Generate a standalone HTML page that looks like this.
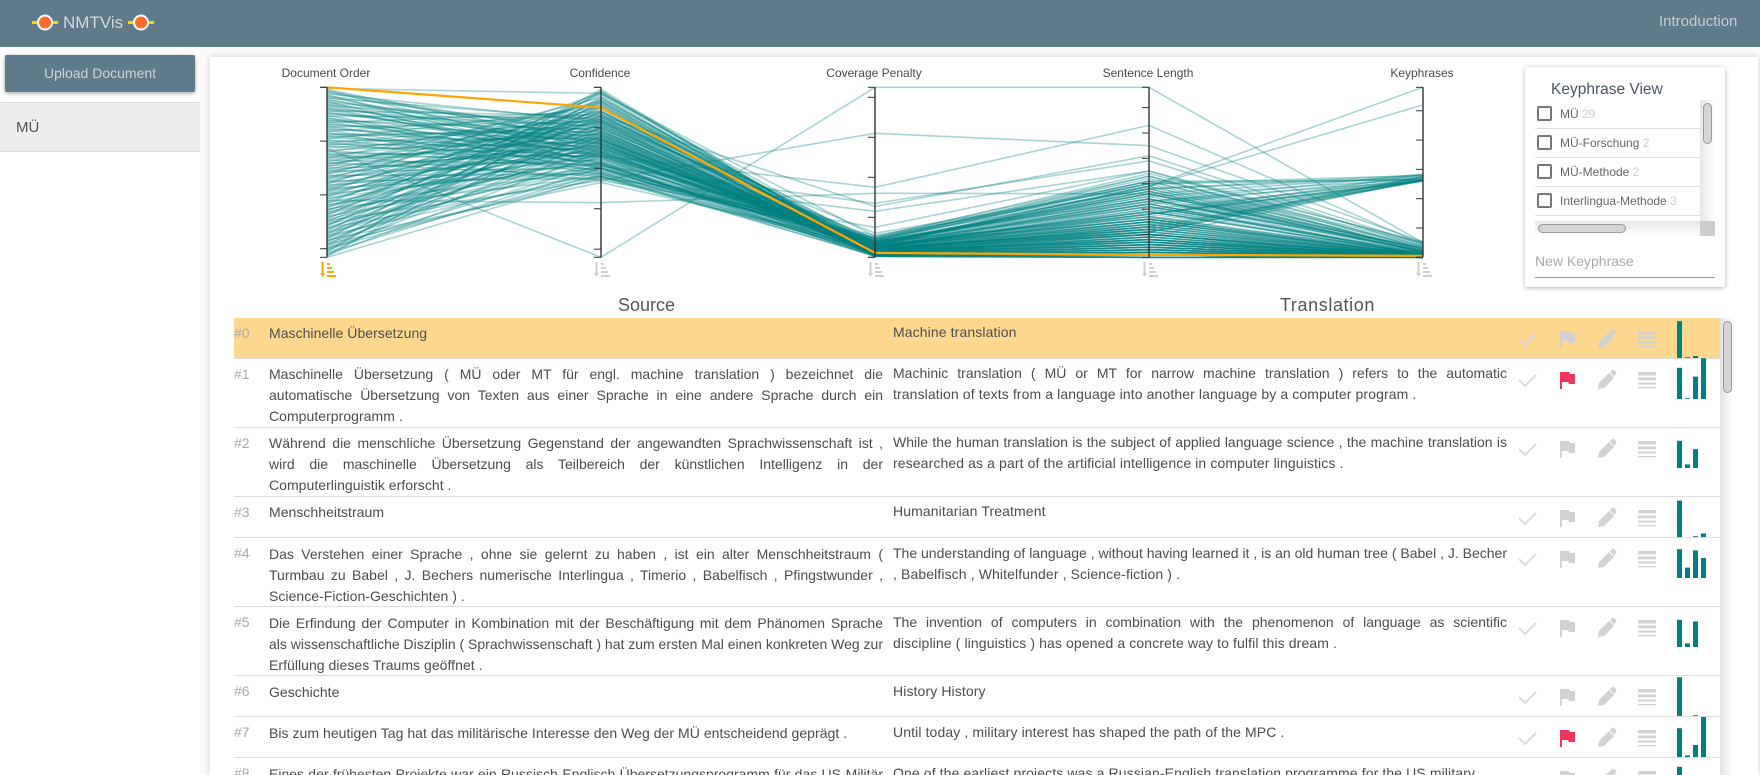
<!DOCTYPE html>
<html lang="en">
<head>
<meta charset="utf-8">
<title>NMTVis</title>
<style>
html,body{margin:0;padding:0;width:1760px;height:775px;overflow:hidden;background:#fafafa;font-family:"Liberation Sans",sans-serif;color:#4a4a4a}
div,span{box-sizing:border-box}
.abs{position:absolute}
#header{left:0;top:0;width:1760px;height:47px;background:#5f7b8a}
#sidebar{left:0;top:47px;width:200px;height:728px;background:#fff}
#card{left:210px;top:57px;width:1548px;height:718px;background:#fff;box-shadow:0 0 6px rgba(0,0,0,.18)}
#upload{left:5px;top:55px;width:190px;height:37px;background:#5f7b8a;color:#c9d4da;font-size:14px;line-height:37px;text-align:center;border-radius:2px;box-shadow:0 1px 4px rgba(0,0,0,.4)}
#docitem{left:0;top:102px;width:200px;height:50px;background:#eee;border-top:1px solid #ddd;border-bottom:1px solid #ddd;font-size:15px;line-height:50px;padding-left:16px;color:#555}
#panel{left:1525px;top:67px;width:200px;height:220px;background:#fff;box-shadow:0 1px 5px rgba(0,0,0,.3);border-radius:2px}
.kp{position:absolute;left:1535px;width:165px;height:29px;border-bottom:1px solid #ddd;font-size:12px;line-height:29px;padding-left:25px;color:#666;white-space:nowrap;overflow:hidden}
.kp b{font-weight:normal;color:#ccc}
.cb{position:absolute;left:2px;top:6px;width:15px;height:15px;border:2px solid #777;border-radius:2px;background:#fff}
.row{position:absolute;left:234px;width:1486px;border-bottom:1px solid #ddd;background:#fff}
.num{position:absolute;left:0;top:5px;font-size:14px;line-height:21px;color:#aaa}
.src,.trn{position:absolute;width:614px;font-size:14px;line-height:21px;color:#4d4d4d}
.src{left:35px;top:5px}
.trn{left:659px;top:4px}
.low .src{top:6px}
.low .trn{top:5px}
.j{display:block;height:21px;text-align:justify;text-align-last:justify;overflow:hidden}
.e{display:block;height:21px;white-space:nowrap;text-align:left;letter-spacing:.04px}
.trn .e{letter-spacing:.11px}
.tight{word-spacing:-1.6px}
.last{border-bottom:0}
.last .num{height:12px;overflow:hidden}
.last .src{height:11px;overflow:hidden}
.last .trn{height:12px;overflow:hidden}
.last .src span{height:11px}
.last .trn span{height:12px}
.icons{position:absolute;left:0;top:0;overflow:visible}
</style>
</head>
<body>
<div class="abs" id="header"></div>
<svg class="abs" style="left:0;top:0" width="170" height="47">
  <rect x="32" y="21" width="26" height="3" fill="#ffd600"/><circle cx="45" cy="22.5" r="7" fill="#ff6b2c" stroke="#fff" stroke-width="2"/>
  <rect x="128" y="21" width="26" height="3" fill="#ffd600"/><circle cx="141" cy="22.5" r="7" fill="#ff6b2c" stroke="#fff" stroke-width="2"/>
</svg>
<div class="abs" style="left:63px;top:12px;font-size:17px;line-height:21px;color:#cfdae0">NMTVis</div>
<div class="abs" style="left:1659px;top:13px;font-size:15px;line-height:18px;color:#c3cfd5">Introduction</div>

<div class="abs" id="sidebar"></div>
<div class="abs" id="card"></div>
<div class="abs" id="upload">Upload Document</div>
<div class="abs" id="docitem">MÜ</div>

<svg class="abs" id="parcoords" style="left:0;top:55px" width="1520" height="235" viewBox="0 55 1520 235"></svg>

<div class="abs" id="panel"></div>
<div class="abs" style="left:1551px;top:81px;font-size:15.5px;line-height:18px;color:#4a5560">Keyphrase View</div>
<div class="kp" style="top:100px"><span class="cb"></span>MÜ <b>29</b></div>
<div class="kp" style="top:129px"><span class="cb"></span>MÜ-Forschung <b>2</b></div>
<div class="kp" style="top:158px"><span class="cb"></span>MÜ-Methode <b>2</b></div>
<div class="kp" style="top:187px"><span class="cb"></span>Interlingua-Methode <b>3</b></div>
<div class="abs" style="left:1700px;top:100px;width:15px;height:121px;background:linear-gradient(90deg,#e6e6e6,#fff)"></div>
<div class="abs" style="left:1703px;top:103px;width:9px;height:41px;background:#d4d4d4;border:1px solid #999;border-radius:5px"></div>
<div class="abs" style="left:1535px;top:221px;width:165px;height:15px;background:linear-gradient(180deg,#e6e6e6,#fff);"></div>
<div class="abs" style="left:1538px;top:224px;width:88px;height:9px;background:#d4d4d4;border:1px solid #999;border-radius:5px"></div>
<div class="abs" style="left:1700px;top:221px;width:15px;height:15px;background:#ccc"></div>
<div class="abs" style="left:1535px;top:252px;width:180px;height:26px;border-bottom:1px solid #999;font-size:14px;line-height:18px;color:#aaa">New Keyphrase</div>

<div class="abs" style="left:618px;top:295px;font-size:18px;line-height:21px;color:#555">Source</div>
<div class="abs" style="left:1280px;top:295px;font-size:18px;line-height:21px;letter-spacing:.6px;color:#555">Translation</div>

<div class="abs" id="table" style="left:0;top:0;width:1760px;height:775px;overflow:hidden">
<div class="row" style="top:318px;height:41px;background:#ffd88f"><div class="num">#0</div>
<div class="src"><span class="e">Maschinelle Übersetzung</span></div>
<div class="trn"><span class="e">Machine translation</span></div></div>
<div class="row" style="top:359px;height:69px"><div class="num">#1</div>
<div class="src"><span class="j">Maschinelle Übersetzung ( MÜ oder MT für engl. machine translation ) bezeichnet die</span><span class="j">automatische Übersetzung von Texten aus einer Sprache in eine andere Sprache durch ein</span><span class="e">Computerprogramm .</span></div>
<div class="trn"><span class="j">Machinic translation ( MÜ or MT for narrow machine translation ) refers to the automatic</span><span class="e">translation of texts from a language into another language by a computer program .</span></div></div>
<div class="row" style="top:428px;height:69px"><div class="num">#2</div>
<div class="src"><span class="j">Während die menschliche Übersetzung Gegenstand der angewandten Sprachwissenschaft ist ,</span><span class="j">wird die maschinelle Übersetzung als Teilbereich der künstlichen Intelligenz in der</span><span class="e">Computerlinguistik erforscht .</span></div>
<div class="trn"><span class="j">While the human translation is the subject of applied language science , the machine translation is</span><span class="e">researched as a part of the artificial intelligence in computer linguistics .</span></div></div>
<div class="row" style="top:497px;height:41px"><div class="num">#3</div>
<div class="src"><span class="e">Menschheitstraum</span></div>
<div class="trn"><span class="e">Humanitarian Treatment</span></div></div>
<div class="row low" style="top:538px;height:69px"><div class="num">#4</div>
<div class="src"><span class="j">Das Verstehen einer Sprache , ohne sie gelernt zu haben , ist ein alter Menschheitstraum (</span><span class="j">Turmbau zu Babel , J. Bechers numerische Interlingua , Timerio , Babelfisch , Pfingstwunder ,</span><span class="e">Science-Fiction-Geschichten ) .</span></div>
<div class="trn"><span class="j tight">The understanding of language , without having learned it , is an old human tree ( Babel , J. Becher</span><span class="e">, Babelfisch , Whitelfunder , Science-fiction ) .</span></div></div>
<div class="row low" style="top:607px;height:69px"><div class="num">#5</div>
<div class="src"><span class="j">Die Erfindung der Computer in Kombination mit der Beschäftigung mit dem Phänomen Sprache</span><span class="j tight">als wissenschaftliche Disziplin ( Sprachwissenschaft ) hat zum ersten Mal einen konkreten Weg zur</span><span class="e">Erfüllung dieses Traums geöffnet .</span></div>
<div class="trn"><span class="j">The invention of computers in combination with the phenomenon of language as scientific</span><span class="e">discipline ( linguistics ) has opened a concrete way to fulfil this dream .</span></div></div>
<div class="row low" style="top:676px;height:41px"><div class="num">#6</div>
<div class="src"><span class="e">Geschichte</span></div>
<div class="trn"><span class="e">History History</span></div></div>
<div class="row low" style="top:717px;height:41px"><div class="num">#7</div>
<div class="src"><span class="e">Bis zum heutigen Tag hat das militärische Interesse den Weg der MÜ entscheidend geprägt .</span></div>
<div class="trn"><span class="e">Until today , military interest has shaped the path of the MPC .</span></div></div>
<div class="row low last" style="top:758px;height:17px;overflow:hidden"><div class="num">#8</div>
<div class="src"><span class="j tight">Eines der frühesten Projekte war ein Russisch-Englisch Übersetzungsprogramm für das US-Militär</span></div>
<div class="trn"><span class="e">One of the earliest projects was a Russian-English translation programme for the US military</span></div></div>
</div>
<div class="abs" style="left:1720px;top:318px;width:13px;height:457px;background:linear-gradient(90deg,#e4e4e4,#fff)"></div>
<div class="abs" style="left:1723px;top:321px;width:9px;height:72px;background:#d4d4d4;border:1px solid #999;border-radius:5px"></div>

<script>
const documentOrder = [
0,1,2,3,4,5,6,7,8,9,10,11,12,13,14,15,16,17,18,19,20,21,22,23,24,25,26,27,28,29,30,31,32,33,34,35,36,37,38,39,
40,41,42,43,44,45,46,47,48,49,50,51,52,53,54,55,56,57,58,59,60,61,62,63,64,65,66,67,68,69,70,71,72,73,74,75,76,77,78,79,
80,81,82,83,84,85,86,87,88,89,90,91,92,93,94,95,96,97,98,99,100,101,102,103,104,105,106,107,108,109,110,111,112,113,114,115,116,117,118,119,
120,121,122,123,124,125,126,127,128,129,130,131,132,133,134,135,136,137,138,139,140,141,142,143,144,145,146,147,148,149,150,151,152,153,154,155,156,157,158];
const confidence = [
.90,.97,.72,.66,.76,.74,.83,.62,.78,.70,
.84,.68,.75,.60,.80,.72,.65,.82,.71,.63,
.77,.66,.86,.69,.74,.81,.61,.85,.58,.73,
.67,.79,.64,.88,.70,.76,.62,.83,.68,.74,
.60,.87,.57,.72,.78,.65,.80,.69,.90,.63,
.75,.59,.84,.71,.82,.67,.77,.16,.73,.61,
.86,.66,.54,.79,.70,.66,.92,.74,.62,.81,
.56,.77,.88,.68,.95,.64,.83,.71,.60,.85,
.73,.93,.57,.79,.67,.90,.75,.55,.84,.69,
.97,.62,.81,.72,.58,.87,.66,.94,.76,.60,
.83,.70,.91,.63,.78,.43,.86,.68,.96,.59,
.80,.73,.89,.56,.75,.93,.65,.84,.71,.98,
.61,.77,.88,.67,.54,.92,.74,.60,.85,.97,
.69,.56,.82,.94,.72,.63,.90,.78,.58,.86,
.66,.99,.53,.76,.88,.70,.55,.95,.80,.62,
.57,.91,.74,.98,.60,.83,.68,.93,.56];
const coveragePenalty = [
.11,.30,.22,.05,.34,.25,.03,.18,.28,.38,
.15,.26,.08,.46,.12,.31,.20,.06,.36,.24,
.14,.42,.09,.21,.33,.04,.27,.17,.50,.10,
.40,.07,.29,.19,.35,.13,.02,.44,.23,.16,
.32,.08,.55,.18,.05,.37,.26,.11,.22,.48,
.07,.34,.15,.25,.04,.41,.20,4.25,.09,.30,
.14,.27,3.10,.06,.21,1.75,.16,.05,.33,.47,
.12,.24,.03,.39,.19,.28,.07,.36,.13,.60,
.23,.09,.43,.11,.26,.06,.31,.17,.38,.10,
.52,.20,.08,.29,.15,.03,.40,.25,.12,.45,
.14,.32,.18,.05,.27,1.60,.10,.22,.07,.35,
.16,.30,.04,.49,.13,.24,.08,.37,.19,.11,
1.35,.06,.28,.17,.75,.12,.23,.05,.33,.15,
.44,.21,.07,.29,.14,.02,.39,.18,.09,1.27,
.41,.10,.31,.04,.20,.16,1.15,.08,.26,.13,
.03,.19,.34,.07,.25,.11,.06,.17,.04];
const sentenceLength = [
2,28,24,1,26,22,1,13,29,17,
14,20,6,31,9,19,15,4,27,11,
12,33,5,21,29,3,10,18,34,8,
25,2,16,7,23,6,1,30,19,10,
22,5,28,13,3,24,16,9,12,32,
4,21,11,18,2,26,14,68,5,23,
8,17,45,3,12,53,15,2,29,31,
10,14,1,27,7,19,5,25,6,29,
20,4,30,9,16,3,13,11,26,6,
33,12,2,18,8,1,24,15,7,28,
10,22,13,4,17,26,6,11,3,27,
9,16,2,30,8,12,5,23,10,7,
39,3,19,11,35,6,15,2,26,9,
28,14,4,21,8,1,31,10,6,41,
24,7,18,2,13,10,35,5,15,8,
1,12,22,3,16,7,4,11,2];
const keyphraseScore = [
.05,.30,.04,.00,2.78,.06,.00,2.62,.22,.08,
.03,2.64,.00,.41,.02,2.70,.10,.00,.28,.05,
2.61,.16,.00,.12,5.20,.00,.04,2.82,.52,.01,
.19,.00,2.63,.06,.35,.01,.00,2.66,.11,.03,
.14,.00,.26,2.62,.00,.21,.07,.02,2.75,.47,
.00,.17,.04,2.61,.00,.33,.09,.50,.01,2.84,
.02,.13,.53,.00,.05,.44,2.65,.00,5.80,.24,
.02,2.62,.00,.18,.04,.10,.00,2.68,.01,.38,
.08,.00,2.79,.03,.15,.00,.06,2.63,.20,.01,
.31,.05,.00,2.61,.03,.00,.16,.09,.02,2.72,
.03,.12,.06,.00,2.64,.23,.01,.05,.00,.18,
2.67,.08,.00,.27,.02,.10,.00,2.62,.04,.01,
.36,.00,.11,2.76,.49,.02,.07,.00,.19,.03,
2.81,.05,.00,.14,.02,.00,2.63,.04,.00,.43,
.21,.01,2.65,.00,.06,.03,.29,.00,.09,.02,
.00,.04,2.73,.00,.07,.02,.00,2.61,.01];
const highlightedSentence = 0;

const axisTitles = ["Document Order","Confidence","Coverage Penalty","Sentence Length","Keyphrases"];
const documentTicks = [0,50,100,150];
const confidenceTicks = [1,.8,.6,.4,.2];
const coverageTicks = [0,1,2,3,4];
const lengthTicks = [10,20,30,40,50,60];
const keyphraseTicks = [0,1,2,3,4,5];

const sparkConfidence = [.92,.78,.68,.91,.72,.68,.97,.72,.78];
const sparkCoverage = [.02,.02,.09,0,.26,.09,0,.04,.02];
const sparkLength = [.05,.56,.47,.02,.69,.64,.02,.30,.55];
const sparkKeyphrase = [0,1.02,0,.09,.50,0,0,1.0,0];
const flaggedRows = [1,7];

const NS = 'http://www.w3.org/2000/svg';
const TOP = 87.3, BOTTOM = 257.3;
function linear(d0, d1) { return v => BOTTOM - (v - d0) / (d1 - d0) * (BOTTOM - TOP); }
const yDoc = v => TOP + v / 158 * (BOTTOM - TOP);
const axes = [
  {x: 327, y: yDoc, vals: documentOrder, ticks: documentTicks},
  {x: 601, y: linear(.16, 1), vals: confidence, ticks: confidenceTicks},
  {x: 875, y: linear(0, 4.25), vals: coveragePenalty, ticks: coverageTicks},
  {x: 1149, y: linear(1, 68), vals: sentenceLength, ticks: lengthTicks},
  {x: 1423, y: linear(0, 5.8), vals: keyphraseScore, ticks: keyphraseTicks}
];
const chart = document.getElementById('parcoords');
function mk(tag, attrs, parent) {
  const e = document.createElementNS(NS, tag);
  for (const k in attrs) e.setAttribute(k, attrs[k]);
  parent.appendChild(e);
  return e;
}
function linePath(i) {
  return axes.map((a, n) => (n ? 'L' : 'M') + a.x + ' ' + a.y(a.vals[i]).toFixed(2)).join(' ');
}
const lineLayer = mk('g', {fill: 'none'}, chart);


documentOrder.forEach((_, i) => {
  if (i === highlightedSentence) return;
  const p = mk('path', {d: linePath(i), stroke: '#008080', 'stroke-opacity': .34, 'stroke-width': 1.6}, lineLayer);
  
  
});
const hl = mk('path', {d: linePath(highlightedSentence), stroke: '#ffa500', 'stroke-width': 2.2, fill: 'none'}, chart);



axes.forEach((a, n) => {
  const g = mk('g', {}, chart);
  
  
  const ends = [TOP, BOTTOM];
  mk('line', {x1: a.x, x2: a.x, y1: TOP, y2: BOTTOM, stroke: '#333', 'stroke-width': 1.4}, g);
  ends.concat(a.ticks.map(a.y)).forEach(y => {
    const t = mk('line', {x1: a.x - 7, x2: a.x, y1: y, y2: y, stroke: '#333', 'stroke-width': 1}, g);
    
    
  });
  const label = mk('text', {x: a.x - 1, y: 77, 'text-anchor': 'middle', 'font-size': 12, fill: '#4a4a4a', 'font-family': '"Liberation Sans",sans-serif'}, g);
  label.textContent = axisTitles[n];
  
  
  const icon = mk('g', {fill: n === 0 ? '#ffa500' : '#cfcfcf'}, g);
  
  
  const ix = a.x - 7;
  mk('rect', {x: ix + 1.5, y: 262, width: 2, height: 13}, icon);
  mk('path', {d: `M${ix} 273h5l-2.5 4z`}, icon);
  mk('rect', {x: ix + 7, y: 263, width: 3, height: 2}, icon);
  mk('rect', {x: ix + 7, y: 267, width: 5, height: 2}, icon);
  mk('rect', {x: ix + 7, y: 271, width: 7, height: 2}, icon);
  mk('rect', {x: ix + 7, y: 275, width: 9, height: 2}, icon);
});

function addIcons(row, i) {
  const rowH = row.offsetHeight;
  const cut = row.classList.contains('last');
  const s = document.createElementNS(NS, 'svg');
  s.setAttribute('class', 'icons');
  s.setAttribute('width', 1486);
  s.setAttribute('height', rowH);
  
  
  const grey = '#d2d2d2';
  const flagged = flaggedRows.includes(i);
  if (!cut) {
    const check = mk('path', {d: 'M1285 21l6 6 11-11', fill: 'none', stroke: '#dcdcdc', 'stroke-width': 2}, s);
    
    
  }
  const flag = mk('path', {d: cut ? 'M1326 13h9l1 2h5v2h-15z' : 'M1326 13h2v17h-2zM1328 13h7l1 2h5v10h-6l-1-2h-6z', fill: flagged ? '#f0355f' : grey}, s);
  
  
  const pencil = mk('path', {d: cut ? 'M1371 17l4-3 1-1 2-2q1-1 2 0l2 2q1 1 0 2l-2 2z' : 'M1364 30l1-6 10-10 5 5-10 10zM1376 13l2-2q1-1 2 0l2 2q1 1 0 2l-2 3z', fill: grey}, s);
  
  
  const list = mk('g', {fill: grey}, s);
  
  
  mk('rect', {x: 1404, y: 13, width: 18, height: 3.4}, list);
  if (!cut) {
    mk('rect', {x: 1404, y: 18.5, width: 18, height: 2.8}, list);
    mk('rect', {x: 1404, y: 23.5, width: 18, height: 2}, list);
    mk('rect', {x: 1404, y: 28, width: 18, height: 1.3}, list);
  }
  row.appendChild(s);

  const bars = [sparkConfidence[i], sparkCoverage[i], sparkLength[i], sparkKeyphrase[i]];
  const base = 40, h = v => v * 40;
  const g = mk('g', {}, s);
  
  
  bars.forEach((v, b) => {
    const top = base - h(v);
    const bottom = cut ? Math.min(base, rowH) : base;
    const r = mk('rect', {x: 1443 + b * 8, y: top, width: 5, height: Math.max(0, bottom - top), fill: '#008080'}, g);
    
    
  });
}
document.querySelectorAll('.row').forEach(addIcons);
</script>
</body>
</html>
